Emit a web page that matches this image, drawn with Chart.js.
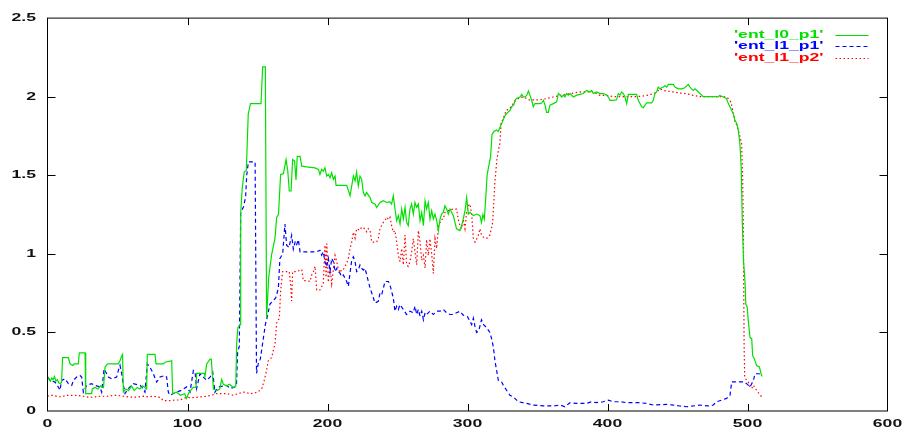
<!DOCTYPE html>
<html>
<head>
<meta charset="utf-8">
<script src="https://cdn.jsdelivr.net/npm/chart.js@4/dist/chart.umd.min.js"></script>
<style>
  html, body { margin: 0; padding: 0; background: #fff; }
  #wrap { width: 907px; height: 433px; }
</style>
</head>
<body>
<div id="wrap"><canvas id="plot" width="907" height="433"></canvas></div>
<script>
// Axis tick values
const xTicks = [0, 100, 200, 300, 400, 500, 600];
const yTicks = [0, 0.5, 1, 1.5, 2, 2.5];

// Series names as printed in the key
const seriesNames = ["'ent_l0_p1'", "'ent_l1_p1'", "'ent_l1_p2'"];

// [x, entropy] samples for each series
const entL0P1 = [
  [0,.22],[2,.19],[3,.21],[4,.2],[5,.22],[6,.19],[7,.2],[8,.18],[9,.175],[10,.18],[10.8,.34],[13,.34],[14.9,.34],
  [16.1,.30],[18,.29],[19,.30],[22,.30],[22.7,.37],[26.8,.37],[27.3,.11],[31.5,.11],[32,.14],[34,.15],[36,.14],
  [38,.16],[40,.15],[41.1,.28],[43,.30],[46,.30],[50.6,.30],[51.8,.32],[53,.35],[53.6,.36],[54.2,.12],[56,.14],
  [58,.13],[60,.16],[62,.13],[64,.15],[66,.14],[68,.16],[70.8,.14],[71.3,.36],[76.8,.36],[77.5,.30],[82.7,.30],
  [84,.31],[88.7,.32],[89.4,.11],[92,.12],[95,.10],[98,.11],[99.4,.08],[100.6,.11],[102,.13],[104.2,.15],
  [106,.15],[106.5,.24],[112,.24],[112.5,.22],[113.7,.30],[116.1,.33],[117,.33],[118.5,.14],[121,.13],[123,.14],
  [124.4,.20],[125.6,.17],[128,.16],[130,.17],[132.7,.15],[134.5,.16],[135.1,.43],[136,.53],[137.5,.55],
  [138,1.26],[139,1.41],[140.5,1.52],[142,1.53],[143.4,1.89],[145,1.956],[152.5,1.956],[153.7,2.19],[155.6,2.19],
  [156.5,.59],[158,.85],[160,.99],[162.5,1.1],[163.7,1.233],[165,1.25],[166.5,1.505],[168.5,1.51],[170.4,1.6],
  [171.6,1.53],[172.7,1.40],[174,1.40],[175.1,1.6],[176.5,1.59],[177.5,1.47],[178.4,1.62],[180.4,1.62],
  [181.6,1.558],[185.1,1.553],[191.1,1.547],[193.5,1.537],[194.6,1.505],[195.8,1.537],[197,1.526],[198.2,1.547],
  [199.4,1.495],[200.6,1.505],[201.8,1.484],[203,1.516],[204.2,1.474],[205.4,1.495],[206.1,1.436],[213.7,1.436],
  [216.1,1.37],[217.3,1.432],[218.5,1.495],[219.7,1.463],[220.8,1.52],[222,1.432],[223.2,1.495],[224.4,1.474],
  [225.6,1.39],[226.8,1.369],[228,1.39],[230.4,1.358],[231.6,1.327],[233.9,1.317],[235.1,1.295],[237.5,1.327],
  [239.9,1.338],[242.3,1.327],[244.6,1.331],[245.8,1.317],[247,1.37],[248.2,1.285],[249.4,1.211],[250.6,1.243],
  [251.8,1.19],[253,1.285],[254.2,1.222],[255.4,1.296],[256.5,1.201],[257.7,1.18],[258.9,1.285],[260.1,1.317],
  [261.3,1.253],[262.5,1.327],[263.7,1.296],[264.9,1.317],[266.1,1.211],[267.3,1.264],[268.5,1.18],[269.7,1.338],
  [270.8,1.285],[272,1.327],[273.2,1.222],[274.4,1.274],[275.6,1.222],[276.8,1.253],[278,1.211],[279.2,1.148],
  [280.4,1.222],[281.5,1.253],[282.7,1.264],[283.9,1.306],[285.1,1.285],[286.3,1.253],[287.5,1.285],[289.9,1.243],
  [291,1.201],[292.2,1.159],[294.6,1.148],[295.8,1.18],[297,1.222],[298.2,1.274],[299.4,1.358],[300.6,1.253],
  [301.8,1.264],[304.2,1.243],[306.6,1.253],[308.9,1.243],[310,1.2],[311,1.25],[312,1.22],[313,1.35],[314,1.5],
  [315,1.55],[316.5,1.62],[317.5,1.76],[318.9,1.778],[320.8,1.788],[322,1.778],[324.4,1.83],[326.8,1.88],
  [328,1.893],[330.4,1.914],[331.5,1.935],[333,1.946],[333.9,1.977],[335,1.988],[337.5,1.998],[338.7,2.015],
  [340,1.998],[341,1.998],[342.3,2.008],[343.5,2.036],[344.6,2.008],[345.8,1.977],[347,1.935],[348.2,1.956],
  [351.8,1.956],[353,1.96],[354.2,1.977],[355.4,1.946],[356.5,1.9],[357.7,1.9],[358.9,1.946],[361.3,1.956],
  [363.7,1.967],[364.9,2.02],[366.1,2.01],[367.3,1.998],[368.5,2.01],[369.6,1.998],[370.8,2.02],[372,2.01],
  [373.2,2.02],[375.6,1.998],[378,2.01],[380.4,2.015],[382.7,2.02],[385.1,2.04],[387.5,2.03],[388.7,2.04],
  [389.9,2.02],[392.3,2.03],[394.6,2.02],[397,2.02],[399.4,2.01],[400.6,1.998],[401.8,1.977],[404.2,1.977],
  [406.5,1.98],[407.7,2.02],[408.9,2.01],[410.1,2.03],[411.3,2.02],[412.5,1.998],[413.7,1.956],[414.9,2.015],
  [416.1,2.015],[420.8,2.015],[422,1.977],[423.2,1.956],[424.4,1.935],[425.6,1.93],[426.8,1.946],[428,1.96],
  [431.5,1.96],[432.7,1.977],[433.9,2.02],[435.1,2.03],[436.3,2.061],[437.5,2.05],[438.7,2.057],[439.9,2.061],
  [441.1,2.071],[442.3,2.061],[443.5,2.078],[447,2.078],[448.2,2.061],[450.6,2.05],[452.9,2.05],[455.3,2.057],
  [457.7,2.078],[458.9,2.061],[460.1,2.05],[461.3,2.04],[462.5,2.05],[464.9,2.03],[466,2.02],[468.3,2.0],
  [471,2.0],[476,2.0],[479,1.998],[480.2,2.008],[482.7,1.998],[485,1.988],[486.3,1.956],[487.5,1.935],
  [489.9,1.89],[491,1.85],[492.3,1.83],[493.4,1.788],[494.6,1.70],[495.5,1.55],[496.3,1.2],[497.2,.95],
  [498.2,.824],[498.8,.68],[499.8,.66],[500.5,.58],[501.8,.467],[503,.46],[503.7,.352],[505,.33],[506.5,.289],
  [508.5,.28],[510,.226],[510.5,.22]
];

const entL1P1 = [
  [0,.216],[1.8,.195],[5.4,.184],[7.7,.153],[8.9,.132],[10.1,.195],[12.5,.205],[14.9,.174],[17.3,.163],
  [18.5,.195],[20.8,.216],[23.2,.226],[24.4,.216],[25.6,.12],[28,.163],[31.5,.174],[33.9,.163],[37.5,.153],
  [38.7,.12],[40.4,.268],[42.3,.237],[43.5,.216],[45.8,.205],[49.4,.216],[50.6,.258],[51.8,.29],[53,.237],
  [54.2,.163],[55.4,.111],[57.7,.143],[61.3,.174],[66.1,.163],[67.3,.153],[69.6,.12],[71.3,.30],[73.2,.279],
  [75.6,.237],[78,.184],[80.4,.216],[83.9,.226],[85.1,.216],[86.3,.12],[87.5,.10],[89.9,.111],[92.3,.12],
  [95.8,.132],[99.4,.153],[101.8,.12],[104.2,.258],[105.4,.247],[106.5,.143],[108.9,.237],[111.3,.216],
  [113.7,.195],[116.1,.216],[118,.247],[119.6,.12],[122,.153],[128,.163],[130.4,.143],[133.9,.153],[135,.17],
  [135.8,.38],[137,.41],[138,1.26],[140,1.3],[141.5,1.36],[142.3,1.5],[143.5,1.585],[148.3,1.585],[149.3,.24],
  [150.5,.30],[152,.33],[153.5,.42],[155.6,.55],[157,.6],[158.9,.68],[161,.70],[163,.72],[164.9,.78],[166,.97],
  [168,1.0],[169.6,1.19],[170.8,1.055],[172.5,1.04],[174.4,1.118],[175.6,1.03],[177,1.08],[178,1.06],
  [179.2,1.09],[180.4,1.013],[192.3,1.013],[194.6,1.023],[195.8,.992],[197,1.013],[198.2,.95],[199.4,.918],
  [200.6,.971],[201.8,.887],[203,.971],[204.2,.95],[205.4,.887],[206.6,.908],[207.7,.887],[208.9,.877],
  [210.1,.855],[211.3,.866],[213.7,.824],[214.9,.793],[216.1,.877],[217.3,.96],[218.5,.981],[219.7,.95],
  [220.8,.887],[222,.897],[223.2,.929],[224.4,.908],[225.6,.897],[226.8,.908],[228,.866],[230.4,.782],
  [232.8,.719],[233.9,.687],[236.3,.698],[237.5,.75],[238.7,.74],[239.9,.782],[241.1,.824],[243.5,.824],
  [244.6,.803],[245.8,.761],[247,.719],[248.2,.635],[249.4,.667],[250.6,.646],[251.8,.677],[254.2,.646],
  [256.5,.614],[258.9,.635],[261.3,.625],[262.5,.667],[263.7,.614],[264.9,.646],[266.1,.604],[267.3,.635],
  [268.5,.58],[269.7,.625],[270.8,.614],[273.2,.635],[275.6,.614],[278,.635],[280.4,.635],[282.7,.646],
  [285.1,.625],[287.5,.614],[289.9,.614],[292.2,.625],[294.6,.635],[297,.61],[300,.60],[303,.55],[304.2,.59],
  [305.3,.54],[306.5,.50],[308,.51],[310,.58],[311.5,.55],[313.7,.53],[316,.50],[317.3,.457],[318.5,.405],
  [319.6,.32],[320.8,.258],[322,.195],[324.4,.185],[325.6,.164],[327.9,.132],[330.3,.10],[332.7,.09],
  [336.3,.059],[342.3,.048],[347,.038],[354.1,.032],[361,.032],[366.1,.038],[369.6,.027],[373.2,.053],
  [378,.048],[385,.048],[388.7,.059],[392,.053],[397,.059],[400.6,.069],[404,.059],[409,.059],[413.7,.053],
  [423,.053],[428,.048],[432.7,.038],[442,.042],[447,.038],[451.8,.032],[456.5,.027],[461.3,.032],[466.1,.038],
  [472,.032],[475.6,.038],[478,.059],[481.5,.069],[485.1,.08],[487.5,.10],[488.7,.185],[493,.185],[497,.185],
  [499.4,.174],[501.8,.153],[503,.174],[504.2,.195],[505.4,.237],[508,.237],[510.1,.233]
];

const entL1P2 = [
  [0,.094],[2,.1],[4.2,.1],[7.7,.09],[11.3,.094],[13.7,.1],[18.5,.1],[22,.098],[25.6,.094],[30.4,.087],[34,.09],
  [37.5,.094],[42.3,.094],[46,.098],[49.4,.1],[54.2,.094],[58,.09],[61.3,.087],[65,.09],[68.5,.094],[72,.09],
  [75.6,.094],[80.4,.087],[82.7,.066],[87.5,.066],[91,.07],[94.6,.07],[99.4,.087],[103,.085],[106.5,.087],
  [110,.09],[113.7,.094],[117,.1],[120.8,.111],[124,.11],[128,.111],[132.7,.1],[136,.11],[140,.12],[145,.11],
  [150,.12],[153,.14],[155,.2],[156.5,.26],[157.7,.32],[160.1,.34],[162.5,.43],[163.7,.56],[165.6,.59],
  [166.5,.76],[167.9,.887],[172.7,.887],[173.7,.80],[174.4,.70],[175.1,.887],[178,.887],[181.6,.9],[182.7,.83],
  [185.1,.83],[187.5,.824],[188.7,.865],[190,.887],[191.1,.92],[192.3,.77],[194.6,.77],[197,.81],[198.2,1.055],
  [199,.85],[199.5,1.065],[200.6,.82],[201.8,.92],[203,.81],[204.2,.9],[205.4,.99],[206.6,.95],[207.7,.905],
  [209,.88],[210,.9],[211.3,.9],[213.7,.94],[214.9,.97],[216.1,1.034],[217.3,1.075],[218.5,1.138],[219.7,1.1],
  [220.8,1.16],[223.2,1.15],[224.4,1.17],[226.8,1.16],[228,1.14],[229.2,1.16],[230.4,1.15],[231.6,1.075],
  [235.1,1.075],[236.3,1.1],[237.5,1.16],[239.9,1.2],[241,1.21],[242.3,1.233],[243.5,1.22],[244.6,1.233],
  [245.8,1.18],[247,1.138],[248.2,1.148],[249.4,1.075],[250.6,.99],[251.8,.95],[253,1.034],[254.2,.93],
  [255.4,1.12],[256.5,.93],[257.7,.92],[258.9,.95],[260.1,1.013],[261.3,1.096],[262.5,1.013],[263.7,.93],
  [264.9,1.148],[266.1,1.075],[267.3,.96],[268.5,.99],[269.7,.91],[270.8,1.09],[272,.99],[273.2,1.096],
  [274.4,1.0],[275.6,.875],[276.8,1.096],[278,1.034],[279.2,1.18],[280.4,1.2],[281.5,1.22],[282.7,1.22],
  [283.9,1.264],[286.3,1.275],[289.8,1.285],[292.2,1.285],[293.4,1.22],[294.6,1.18],[295.8,1.16],[297,1.22],
  [298.2,1.16],[299.4,1.264],[300.6,1.306],[301.8,1.317],[303,1.253],[304.2,1.096],[305.4,1.075],[306.6,1.096],
  [307.7,1.117],[308.9,1.16],[310,1.12],[312,1.1],[314,1.1],[316,1.12],[318,1.2],[319.5,1.45],[321,1.6],
  [322.5,1.68],[323.2,1.704],[323.9,1.83],[325.6,1.862],[326.8,1.893],[327.9,1.914],[330.3,1.925],[332.7,1.956],
  [334.6,1.98],[337.5,1.994],[339.9,1.998],[342.3,1.988],[344.6,1.977],[347,1.98],[351.8,1.98],[356.5,1.988],
  [361.3,1.998],[366.1,2.008],[370.8,2.015],[375.6,2.023],[380.4,2.03],[389.9,2.03],[394.6,2.008],[399.4,2.008],
  [404.2,2.0],[418.5,2.0],[423.2,2.002],[428,2.008],[432.7,2.019],[435.1,2.03],[437.5,2.05],[439.9,2.04],
  [442.3,2.036],[447,2.03],[451.8,2.023],[456.5,2.019],[461.3,2.008],[466.1,2.0],[480.4,2.0],[485.1,1.998],
  [487.5,1.977],[488.7,1.946],[489.9,1.893],[491.1,1.84],[492.3,1.82],[493.4,1.788],[494.6,1.746],[495.8,1.704],
  [496.5,1.5],[497,1.2],[497.3,.8],[497.6,.4],[498,.216],[499.4,.195],[500.5,.185],[501.8,.153],[503,.143],
  [504.2,.164],[505.4,.143],[506.6,.132],[509,.1],[510.5,.09]
];

const FONT = 'Liberation Sans, Arial, Helvetica, sans-serif';
const TEXT_STRETCH = 1.6;   // wide lettering of the terminal font

const toPoints = pairs => pairs.map(([x, y]) => ({ x, y }));

// Wide text: every label is drawn horizontally stretched around its anchor
const wideText = {
  id: 'wideText',
  beforeDraw(chart) {
    const ctx = chart.ctx;
    if (ctx.__wide) return;
    const orig = ctx.fillText;
    ctx.fillText = function (t, x, y) {
      this.save();
      this.translate(x, y);
      this.scale(TEXT_STRETCH, 1);
      orig.call(this, t, 0, 0);
      this.restore();
    };
    ctx.__wide = true;
  }
};

// Frame with inward tick marks on all four sides
const frame = {
  id: 'frame',
  afterDatasetsDraw(chart) {
    const { ctx, chartArea: a, scales } = chart;
    ctx.save();
    ctx.strokeStyle = '#000';
    ctx.lineWidth = 1;
    ctx.setLineDash([]);
    ctx.beginPath();
    scales.x.ticks.forEach(t => {
      const px = Math.round(scales.x.getPixelForValue(t.value)) + 0.5;
      if (px <= a.left + 1 || px >= a.right - 1) return;
      ctx.moveTo(px, a.bottom); ctx.lineTo(px, a.bottom - 7);
      ctx.moveTo(px, a.top); ctx.lineTo(px, a.top + 7);
    });
    scales.y.ticks.forEach(t => {
      const py = Math.round(scales.y.getPixelForValue(t.value)) + 0.5;
      if (py <= a.top + 1 || py >= a.bottom - 1) return;
      ctx.moveTo(a.left, py); ctx.lineTo(a.left + 8, py);
      ctx.moveTo(a.right, py); ctx.lineTo(a.right - 8, py);
    });
    ctx.stroke();
    ctx.strokeRect(a.left, a.top, a.right - a.left, a.bottom - a.top);
    ctx.restore();
  }
};

// Key in the top right corner: label, then a line sample
const key = {
  id: 'key',
  afterDraw(chart) {
    const ctx = chart.ctx;
    const a = chart.chartArea;
    const textRight = a.right - 64;
    const sampleL = a.right - 52, sampleR = a.right - 19;
    ctx.save();
    ctx.font = 'bold 11px ' + FONT;
    ctx.textAlign = 'right';
    ctx.textBaseline = 'middle';
    chart.data.datasets.forEach((ds, i) => {
      const y = a.top + 16.5 + i * 11.5;
      ctx.fillStyle = ds.borderColor;
      ctx.fillText(ds.label, textRight, y);
      ctx.strokeStyle = ds.borderColor;
      ctx.lineWidth = ds.borderWidth;
      ctx.setLineDash(ds.borderDash || []);
      ctx.beginPath();
      ctx.moveTo(sampleL, Math.round(y) + 0.5);
      ctx.lineTo(sampleR, Math.round(y) + 0.5);
      ctx.stroke();
    });
    ctx.restore();
  }
};

const lineStyle = { pointRadius: 0, borderWidth: 1.2, tension: 0, fill: false };
const tickFont = { family: FONT, size: 11, weight: 'bold' };

new Chart(document.getElementById('plot'), {
  type: 'line',
  data: {
    datasets: [
      { label: seriesNames[0], data: toPoints(entL0P1), borderColor: '#00e000', ...lineStyle },
      { label: seriesNames[1], data: toPoints(entL1P1), borderColor: '#0000ff', borderDash: [4, 3], ...lineStyle },
      { label: seriesNames[2], data: toPoints(entL1P2), borderColor: '#ff0000', borderDash: [1.5, 2.5], ...lineStyle }
    ]
  },
  options: {
    responsive: false,
    animation: false,
    devicePixelRatio: 1,
    layout: { padding: { top: 13.5, right: 19.5, left: 0, bottom: 0 } },
    plugins: { legend: { display: false }, tooltip: { enabled: false } },
    scales: {
      x: {
        type: 'linear', min: 0, max: 600,
        grid: { display: false, drawTicks: false },
        border: { display: false },
        afterBuildTicks: s => { s.ticks = xTicks.map(v => ({ value: v })); },
        afterFit: s => { s.height = 22; },
        ticks: { padding: 6, color: '#111', font: tickFont, maxRotation: 0, autoSkip: false,
                 callback: v => String(v) }
      },
      y: {
        type: 'linear', min: 0, max: 2.5,
        grid: { display: false, drawTicks: false },
        border: { display: false },
        afterBuildTicks: s => { s.ticks = yTicks.map(v => ({ value: v })); },
        afterFit: s => { s.width = 47.5; },
        ticks: { padding: 11.5, color: '#111', font: tickFont, callback: v => String(v) }
      }
    }
  },
  plugins: [wideText, frame, key]
});
</script>
</body>
</html>
